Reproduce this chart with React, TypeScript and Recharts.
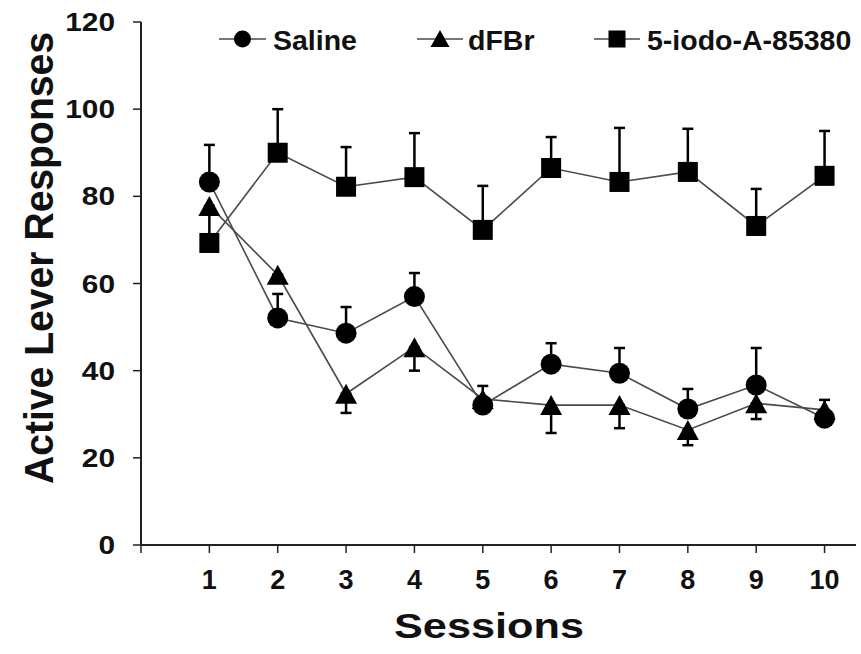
import React from 'react';
import { LineChart, Line, XAxis, YAxis, ErrorBar, Legend } from 'recharts';

const sessions = [1, 2, 3, 4, 5, 6, 7, 8, 9, 10];
const xTicks = [0, 1, 2, 3, 4, 5, 6, 7, 8, 9, 10];
const yTicks = [0, 20, 40, 60, 80, 100, 120];
const seriesNames = ['Saline', 'dFBr', '5-iodo-A-85380'];

const salineMean = [83.3, 52.1, 48.6, 57.0, 32.1, 41.5, 39.4, 31.2, 36.7, 29.1];
const salineErrDown = [0, 0, 0, 0, 0, 0, 0, 0, 0, 0];
const salineErrUp = [8.5, 5.5, 6.0, 5.4, 0, 4.8, 5.8, 4.6, 8.5, 0];

const dfbrMean = [77.8, 62.0, 34.7, 45.4, 33.5, 32.1, 32.1, 26.4, 32.5, 31.0];
const dfbrErrDown = [7.5, 0, 4.4, 5.4, 0, 6.4, 5.3, 3.5, 3.6, 0];
const dfbrErrUp = [0, 0, 0, 0, 3.0, 0, 0, 0, 0, 2.3];

const iodoMean = [69.3, 90.0, 82.2, 84.4, 72.3, 86.5, 83.3, 85.6, 73.2, 84.7];
const iodoErrDown = [0, 0, 0, 0, 0, 0, 0, 0, 0, 0];
const iodoErrUp = [0, 10.0, 9.1, 10.1, 10.1, 7.1, 12.4, 9.9, 8.5, 10.3];

const data = sessions.map((s, i) => ({
  session: s,
  saline: salineMean[i],
  salineErr: [salineErrDown[i], salineErrUp[i]],
  dfbr: dfbrMean[i],
  dfbrErr: [dfbrErrDown[i], dfbrErrUp[i]],
  iodo: iodoMean[i],
  iodoErr: [iodoErrDown[i], iodoErrUp[i]],
}));

const ARIAL = '"Liberation Sans", Arial, sans-serif';
const LINE_COLOR = '#4a4a4a';
const INK = '#111';

const CircleDot = (props: any) => {
  const { cx, cy } = props;
  if (cx == null || cy == null) return <g />;
  return <circle cx={cx} cy={cy} r={10.5} fill="#000" />;
};

const TriangleDot = (props: any) => {
  const { cx, cy } = props;
  if (cx == null || cy == null) return <g />;
  const w = 11;
  const h = 10;
  return <polygon points={`${cx},${cy - h} ${cx + w},${cy + h} ${cx - w},${cy + h}`} fill="#000" />;
};

const SquareDot = (props: any) => {
  const { cx, cy } = props;
  if (cx == null || cy == null) return <g />;
  return <rect x={cx - 10} y={cy - 10} width={20} height={20} fill="#000" />;
};

const YTick = (props: any) => {
  const { x, y, payload } = props;
  const label = String(payload.value);
  return (
    <text
      x={x}
      y={y}
      textAnchor="end"
      dominantBaseline="central"
      fontFamily={ARIAL}
      fontWeight="bold"
      fontSize={25}
      fill={INK}
      textLength={label.length * 16.6}
      lengthAdjust="spacingAndGlyphs"
    >
      {label}
    </text>
  );
};

const XTick = (props: any) => {
  const { x, y, payload } = props;
  if (payload.value === 0) return <g />;
  return (
    <text x={x} y={y} dy="0.71em" textAnchor="middle" fontFamily={ARIAL} fontWeight="bold" fontSize={27} fill={INK}>
      {String(payload.value)}
    </text>
  );
};

const XLabel = () => (
  <text
    x={489}
    y={638}
    textAnchor="middle"
    fontFamily={ARIAL}
    fontWeight="bold"
    fontSize={35}
    fill={INK}
    textLength={190}
    lengthAdjust="spacingAndGlyphs"
  >
    Sessions
  </text>
);

const YLabel = () => (
  <text
    x={53}
    y={258}
    transform="rotate(-90, 53, 258)"
    textAnchor="middle"
    fontFamily={ARIAL}
    fontWeight="bold"
    fontSize={41}
    fill={INK}
    textLength={452}
    lengthAdjust="spacingAndGlyphs"
  >
    Active Lever Responses
  </text>
);

const LegendContent = () => {
  const cy = 20;
  const items = [
    { x0: 219, x1: 266, tx: 273, name: seriesNames[0], kind: 'circle' },
    { x0: 417, x1: 463, tx: 468, name: seriesNames[1], kind: 'triangle' },
    { x0: 594, x1: 640, tx: 647, name: seriesNames[2], kind: 'square' },
  ];
  return (
    <svg width={861} height={40} style={{ display: 'block' }}>
      {items.map((it) => {
        const mx = (it.x0 + it.x1) / 2;
        return (
          <g key={it.name}>
            <line x1={it.x0} x2={it.x1} y1={cy} y2={cy} stroke={LINE_COLOR} strokeWidth={1.6} />
            {it.kind === 'circle' && <circle cx={mx} cy={cy} r={8.5} fill="#000" />}
            {it.kind === 'triangle' && (
              <polygon points={`${mx},${cy - 9} ${mx + 9.5},${cy + 8} ${mx - 9.5},${cy + 8}`} fill="#000" />
            )}
            {it.kind === 'square' && <rect x={mx - 8.5} y={cy - 8.5} width={17} height={17} fill="#000" />}
            <text x={it.tx} y={cy + 10.5} fontFamily={ARIAL} fontWeight="bold" fontSize={28.5} fill={INK}>
              {it.name}
            </text>
          </g>
        );
      })}
    </svg>
  );
};

export default function App() {
  return (
    <div style={{ position: 'absolute', left: 0, top: 0, width: 861, height: 654, background: '#fff' }}>
      <LineChart width={861} height={654} data={data} margin={{ top: 22, right: 5, left: 0, bottom: 0 }}>
        <XAxis
          dataKey="session"
          type="number"
          domain={[0, 10.46]}
          ticks={xTicks}
          allowDataOverflow
          height={109}
          tickSize={8}
          tickMargin={17}
          tick={<XTick />}
          axisLine={{ stroke: '#222', strokeWidth: 2 }}
          tickLine={{ stroke: '#222', strokeWidth: 1.5 }}
          label={<XLabel />}
        />
        <YAxis
          type="number"
          domain={[0, 120]}
          ticks={yTicks}
          width={141}
          tickSize={8}
          tickMargin={18}
          tick={<YTick />}
          axisLine={{ stroke: '#222', strokeWidth: 2 }}
          tickLine={{ stroke: '#222', strokeWidth: 1.5 }}
          label={<YLabel />}
        />
        <Legend
          layout="horizontal"
          verticalAlign="middle"
          align="center"
          content={<LegendContent />}
          wrapperStyle={{ position: 'absolute', top: 19, left: 0, width: 861, height: 40 }}
        />
        <Line
          name={seriesNames[2]}
          dataKey="iodo"
          type="linear"
          stroke={LINE_COLOR}
          strokeWidth={1.6}
          dot={(p: any) => <SquareDot key={`sq-${p.index}`} {...p} />}
          activeDot={false}
          isAnimationActive={false}
        >
          <ErrorBar dataKey="iodoErr" direction="y" width={5.5} strokeWidth={2.5} stroke="#000" isAnimationActive={false} />
        </Line>
        <Line
          name={seriesNames[1]}
          dataKey="dfbr"
          type="linear"
          stroke={LINE_COLOR}
          strokeWidth={1.6}
          dot={(p: any) => <TriangleDot key={`tr-${p.index}`} {...p} />}
          activeDot={false}
          isAnimationActive={false}
        >
          <ErrorBar dataKey="dfbrErr" direction="y" width={5.5} strokeWidth={2.5} stroke="#000" isAnimationActive={false} />
        </Line>
        <Line
          name={seriesNames[0]}
          dataKey="saline"
          type="linear"
          stroke={LINE_COLOR}
          strokeWidth={1.6}
          dot={(p: any) => <CircleDot key={`ci-${p.index}`} {...p} />}
          activeDot={false}
          isAnimationActive={false}
        >
          <ErrorBar dataKey="salineErr" direction="y" width={5.5} strokeWidth={2.5} stroke="#000" isAnimationActive={false} />
        </Line>
      </LineChart>
    </div>
  );
}
